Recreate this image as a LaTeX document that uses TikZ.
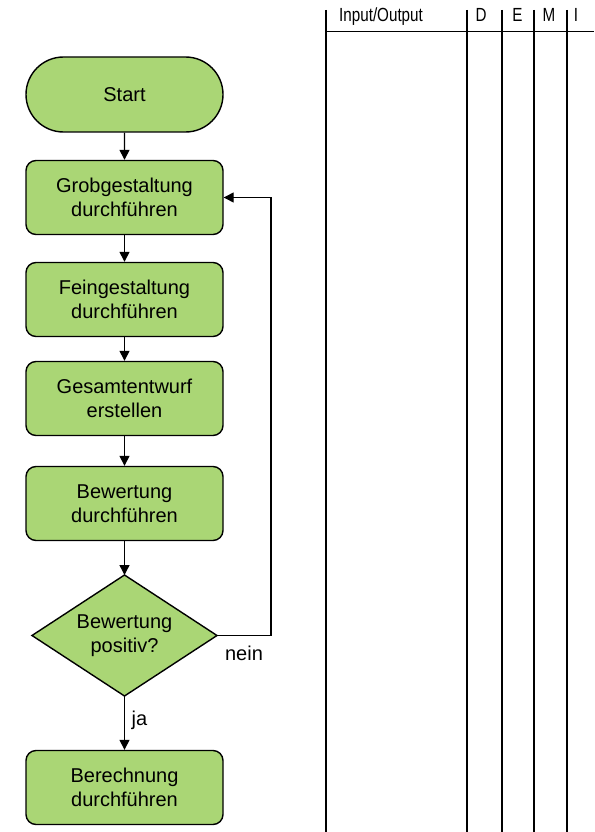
\documentclass[tikz,border=0pt]{standalone}
\usepackage{fontspec}
\setmainfont{Liberation Sans}
\newfontfamily\narrowsans[FakeStretch=0.8]{Liberation Sans}
\usetikzlibrary{arrows.meta,shapes.misc}
\definecolor{stepgreen}{RGB}{170,214,117}
\begin{document}
\begin{tikzpicture}[x=1pt,y=-1pt,
  base/.style={draw=black,line width=1.4pt,fill=stepgreen,align=center,
    font=\fontsize{20}{24.5}\selectfont,inner sep=0pt},
  terminal/.style={base,rounded rectangle,minimum width=197pt,minimum height=75pt},
  stepbox/.style={base,rectangle,rounded corners=10pt,minimum width=197pt,minimum height=74pt},
  flow/.style={line width=1.4pt,-{Triangle[length=10pt,width=10pt]}},
  lbl/.style={font=\fontsize{20}{22}\selectfont,inner sep=0pt},
  tabline/.style={line width=1.4pt},
  head/.style={font=\narrowsans\fontsize{19}{20}\selectfont,inner sep=0pt,anchor=base}
]
\useasboundingbox (0,0) rectangle (594,832);

% Flowchart
\node[terminal] (start) at (124.5,94.5) {Start};
\node[stepbox] (grob) at (124.5,197.5) {Grobgestaltung\\durchführen};
\node[stepbox] (fein) at (124.5,299.5) {Feingestaltung\\durchführen};
\node[stepbox] (gesamt) at (124.5,398.5) {Gesamtentwurf\\erstellen};
\node[stepbox] (bew) at (124.5,503.5) {Bewertung\\durchführen};
% decision diamond
\path[draw=black,line width=1.4pt,fill=stepgreen,line join=miter]
  (32,635.5) coordinate (decW) -- (124.5,575) coordinate (decN)
  -- (217,635.5) coordinate (decE) -- (124.5,696) coordinate (decS) -- cycle;
\node[align=center,font=\fontsize{20}{24.5}\selectfont,inner sep=0pt] (dectext) at (124.5,635.5) {Bewertung\\positiv?};
\node[stepbox] (ber) at (124.5,787.5) {Berechnung\\durchführen};

\draw[flow] (start) -- (grob);
\draw[flow] (grob) -- (fein);
\draw[flow] (fein) -- (gesamt);
\draw[flow] (gesamt) -- (bew);
\draw[flow] (bew.south) -- (decN);
\draw[flow] (decS) -- (ber.north);
\coordinate (loop) at (271,635.5);
\draw[flow] (decE) -- (loop) -- (loop |- grob.east) -- (grob.east);
\node[lbl] (nein) at (244,653) {nein};
\node[lbl] (ja) at (139.5,720) {ja};

% Table columns
\coordinate (c1) at (326,10);
\coordinate (c2) at (467,10);
\coordinate (c3) at (502,10);
\coordinate (c4) at (534,10);
\coordinate (c5) at (567,10);
\foreach \c in {c1,c2,c3,c4,c5}{
  \draw[tabline] (\c) -- (\c |- 0,832);
}
\draw[tabline] (326,31.5) coordinate (hl) -- (594,31.5) coordinate (hr);
\node[head,anchor=base west] (io) at (339,22) {Input/Output};
\node[head] (hd) at (481,22) {D};
\node[head] (he) at (517.5,22) {E};
\node[head] (hm) at (549,22) {M};
\node[head] (hi) at (576,22) {I};
\end{tikzpicture}
\end{document}
